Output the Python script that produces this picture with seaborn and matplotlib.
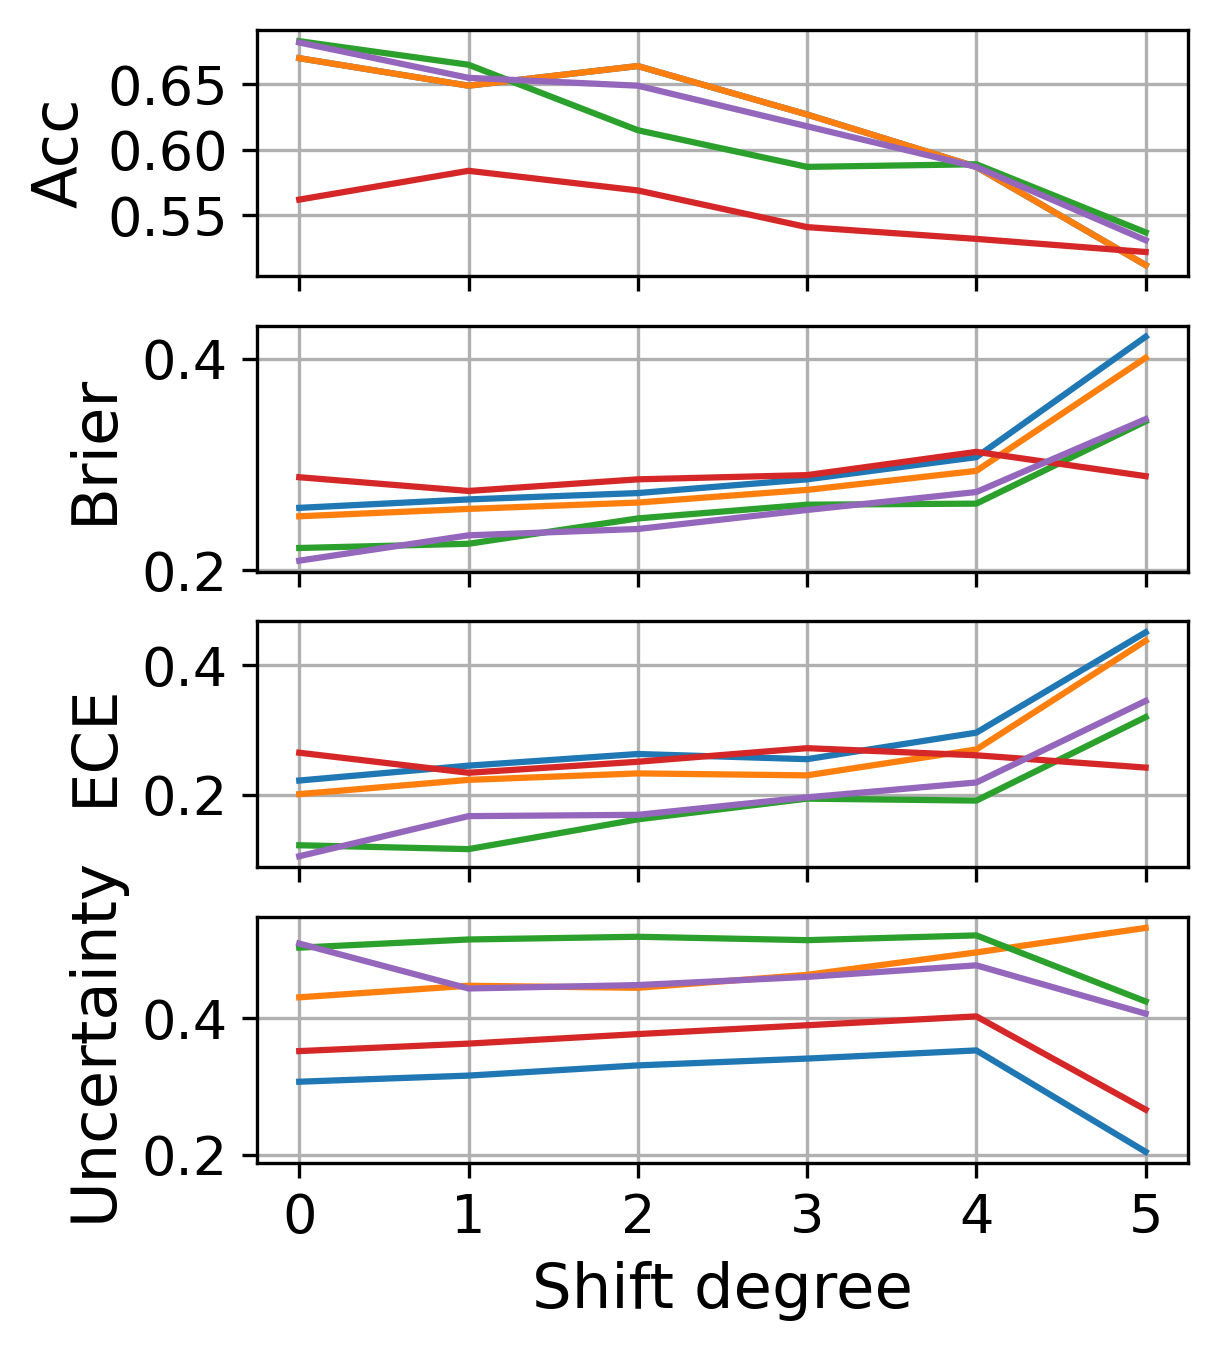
import numpy as np
import pandas as pd
import matplotlib
matplotlib.use("Agg")
import matplotlib.pyplot as plt
import seaborn as sns

# shift degrees on the x axis
shift = [0, 1, 2, 3, 4, 5]
methods = ["m1", "m2", "m3", "m4", "m5"]

# Acc (first series lies under the second one)
acc_m1 = [0.670, 0.649, 0.664, 0.627, 0.587, 0.512]
acc_m2 = [0.670, 0.649, 0.664, 0.627, 0.587, 0.512]
acc_m3 = [0.683, 0.665, 0.615, 0.587, 0.589, 0.537]
acc_m4 = [0.562, 0.584, 0.569, 0.541, 0.532, 0.522]
acc_m5 = [0.682, 0.655, 0.649, 0.618, 0.587, 0.531]

# Brier
brier_m1 = [0.259, 0.267, 0.273, 0.286, 0.307, 0.421]
brier_m2 = [0.251, 0.258, 0.264, 0.276, 0.294, 0.401]
brier_m3 = [0.221, 0.225, 0.249, 0.262, 0.263, 0.341]
brier_m4 = [0.288, 0.275, 0.286, 0.290, 0.312, 0.289]
brier_m5 = [0.209, 0.233, 0.239, 0.257, 0.274, 0.343]

# ECE
ece_m1 = [0.222, 0.245, 0.263, 0.255, 0.296, 0.451]
ece_m2 = [0.201, 0.223, 0.233, 0.230, 0.270, 0.438]
ece_m3 = [0.122, 0.116, 0.162, 0.194, 0.191, 0.320]
ece_m4 = [0.265, 0.234, 0.251, 0.272, 0.261, 0.242]
ece_m5 = [0.105, 0.167, 0.169, 0.196, 0.219, 0.345]

# Uncertainty
unc_m1 = [0.307, 0.316, 0.331, 0.341, 0.353, 0.204]
unc_m2 = [0.431, 0.448, 0.445, 0.464, 0.497, 0.533]
unc_m3 = [0.504, 0.516, 0.520, 0.515, 0.522, 0.425]
unc_m4 = [0.352, 0.363, 0.377, 0.390, 0.403, 0.266]
unc_m5 = [0.510, 0.444, 0.449, 0.461, 0.478, 0.407]

metrics = {
    "Acc": [acc_m1, acc_m2, acc_m3, acc_m4, acc_m5],
    "Brier": [brier_m1, brier_m2, brier_m3, brier_m4, brier_m5],
    "ECE": [ece_m1, ece_m2, ece_m3, ece_m4, ece_m5],
    "Uncertainty": [unc_m1, unc_m2, unc_m3, unc_m4, unc_m5],
}
yticks = {
    "Acc": [0.55, 0.60, 0.65],
    "Brier": [0.2, 0.4],
    "ECE": [0.2, 0.4],
    "Uncertainty": [0.2, 0.4],
}

# Define a long dataframe per metric
def framed(series):
    rows = []
    for name, vals in zip(methods, series):
        for x, v in zip(shift, vals):
            rows.append({"shift": x, "method": name, "value": v})
    return pd.DataFrame(rows)

fig, axes = plt.subplots(4, 1, figsize=(4.053, 4.5), dpi=300, sharex=True)
fig.subplots_adjust(left=0.2113, right=0.977, top=0.9778, bottom=0.1385, hspace=0.2)

palette = sns.color_palette("tab10", len(methods))
for ax, (label, series) in zip(axes, metrics.items()):
    df = framed(series)
    sns.lineplot(data=df, x="shift", y="value", hue="method", palette=palette,
                 linewidth=1.5, legend=False, ax=ax)
    ax.set_yticks(yticks[label])
    ax.set_ylabel(label, fontsize=15)
    ax.set_xlabel("")
    ax.grid(True, color="#b0b0b0", linewidth=0.8)
    ax.tick_params(labelsize=13)

axes[-1].set_xticks(shift)
axes[-1].set_xlabel("Shift degree", fontsize=15)

fig.savefig("out.png", dpi=300)
